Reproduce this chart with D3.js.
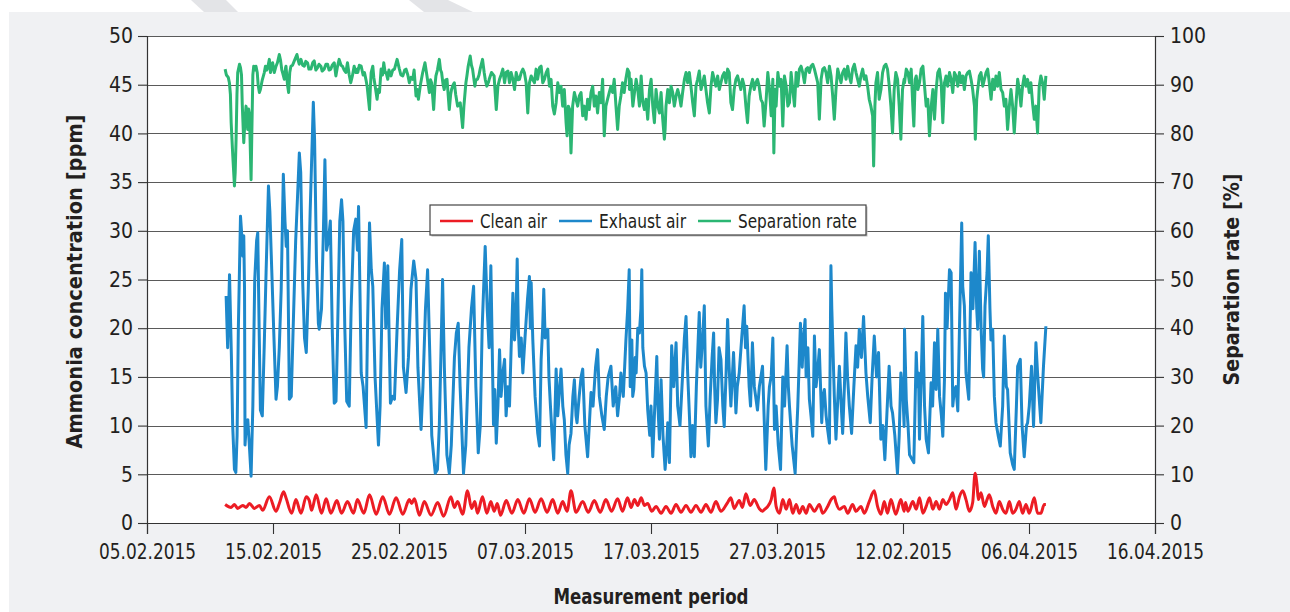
<!DOCTYPE html>
<html>
<head>
<meta charset="utf-8">
<script src="https://cdn.jsdelivr.net/npm/d3@7"></script>
<style>
  html, body { margin: 0; padding: 0; background: #fff; }
  #canvas { width: 1290px; height: 612px; }
  text { font-family: "Liberation Sans Narrow", "DejaVu Sans Condensed", "Arial Narrow", sans-serif; fill: #231f20; }
</style>
</head>
<body>
<div id="canvas"></div>
<script>
// ---------- data (x = days after 05.02.2015, as drawn on the axis) ----------

const xTickDays = [0, 10, 20, 30, 40, 50, 60, 70, 80];
const xTickLabels = ['05.02.2015', '15.02.2015', '25.02.2015', '07.03.2015', '17.03.2015',
  '27.03.2015', '12.02.2015', '06.04.2015', '16.04.2015'];
const ppmTicks = [0, 5, 10, 15, 20, 25, 30, 35, 40, 45, 50];
const rateTicks = [0, 10, 20, 30, 40, 50, 60, 70, 80, 90, 100];
const seriesNames = ['Clean air', 'Exhaust air', 'Separation rate'];

// exhaust air [day, ppm]
const exhaustAir = [
  [6.28,23.3],[6.4,18],[6.55,25.5],[6.7,17],[6.8,10],[6.94,5.5],[7.05,5.2],[7.15,9],[7.25,20],[7.42,31.5],
  [7.5,30],[7.6,27.4],[7.68,29.5],[7.74,24],[7.78,8],[7.9,10.5],[8.0,10.6],[8.1,8.5],[8.26,4.8],[8.4,12],
  [8.55,25],[8.7,29],[8.79,29.8],[8.9,20],[9.0,11.6],[9.15,11],[9.3,18],[9.45,25.7],[9.64,34.6],[9.75,32],
  [9.9,26],[10.05,20],[10.24,12.7],[10.35,14],[10.5,18],[10.65,24],[10.82,35.8],[10.95,31],[11.05,28.4],[11.15,30],
  [11.3,12.7],[11.45,13],[11.6,20],[11.8,29],[11.95,33.6],[12.09,38],[12.2,36],[12.35,25],[12.5,19],[12.64,17.5],
  [12.8,24],[12.95,32],[13.2,43.2],[13.3,39.4],[13.45,27],[13.6,20.5],[13.67,19.9],[13.85,22],[14.0,30],[14.12,37.3],
  [14.25,28],[14.4,29],[14.55,31],[14.7,20],[14.86,12.3],[15.0,12.5],[15.1,18],[15.3,31],[15.44,33.2],[15.55,31],
  [15.7,20],[15.85,12.5],[16.05,12],[16.2,22],[16.4,30],[16.57,31.2],
  [16.7,28],[16.79,32.5],[16.9,24],[17.0,15.4],[17.15,14],[17.39,9.8],[17.5,20],[17.66,30.8],[17.8,26],[17.92,24.3],
  [18.1,15],[18.37,8],[18.5,12],[18.65,22],[18.84,26.7],[18.95,20],[19.11,26.4],[19.32,12.3],[19.5,13],[19.64,12.7],
  [19.85,20],[20.05,26],[20.22,29.1],[20.35,16],[20.56,13.4],[20.75,17],[20.95,24],[21.17,26.9],[21.35,25],[21.5,16],
  [21.75,9.6],[21.9,14],[22.1,22],[22.27,26],[22.45,17],[22.6,9],[22.88,5.1],[23.05,5.5],[23.2,10],[23.46,25],
  [23.6,16],[23.8,7],[23.99,5.1],[24.15,8],[24.4,17],[24.55,19.5],[24.7,20.5],[24.85,14],[25.12,5.1],[25.3,8],
  [25.55,18],[25.75,22],[25.92,24.3],[26.1,14],[26.29,7.2],[26.45,10],[26.6,20],[26.84,28.4],[27.0,22],[27.15,18],
  [27.29,26.4],[27.5,10.1],
  [27.6,13.7],[27.72,8.2],[27.85,12],[27.98,17.8],[28.1,13],[28.24,15.4],[28.38,16.8],[28.5,11],[28.64,14],[28.77,12],
  [28.9,18],[29.04,23.6],[29.17,18.8],[29.3,22],[29.38,27.1],[29.47,20],[29.56,17.1],[29.7,19],[29.83,15.4],[30.0,19],
  [30.2,23],[30.35,25.3],[30.42,20],[30.49,24.7],[30.62,18.8],[30.8,13],[31.01,9.2],[31.15,7.9],[31.28,16.8],[31.4,20],
  [31.49,24],[31.6,19],[31.81,19.9],[31.9,15],[32.02,12],[32.15,9],[32.28,6.5],[32.47,15.8],[32.6,11],[32.75,14],
  [32.86,15.8],[33.0,12],[33.12,10.6],[33.25,7],[33.39,5.1],[33.5,8],[33.65,9.2],[33.8,13],[33.92,14.7],[34.05,11],
  [34.13,10.3],[34.3,13],[34.45,15],[34.58,15.8],[34.75,10],[34.97,6.8],[35.1,10],[35.24,13.4],[35.4,12],[35.6,16],
  [35.76,17.8],[35.9,13],[36.1,11],[36.29,9.6],[36.45,13],[36.6,15],[36.82,16.1],[37.0,12],[37.2,14],[37.35,11],
  [37.5,13],[37.61,15.4],[37.8,13],[38.01,18.8],[38.15,22],[38.27,26],
  [38.35,14],[38.48,18.8],[38.55,13],[38.63,13.7],[38.75,17],[38.82,15.4],[38.95,20],[39.08,19.5],[39.2,22],[39.27,26],
  [39.35,18],[39.48,16.1],[39.61,15.4],[39.74,11.6],[39.9,9],[40.0,12],[40.14,6.8],[40.3,12],[40.46,17.1],[40.55,12],
  [40.67,8.6],[40.8,14.7],[40.95,9],[41.12,5.5],[41.25,8],[41.33,10.3],[41.46,6.2],[41.64,18.2],[41.8,14],[41.99,18.5],
  [42.12,12],[42.3,10],[42.5,15],[42.65,19],[42.78,21.2],[42.91,15.4],[43.05,11],[43.17,6.8],[43.3,10],[43.44,6.8],
  [43.6,14],[43.83,21.6],[43.95,16],[44.1,19],[44.23,22.3],[44.36,12],[44.55,7.9],[44.7,13],[44.85,17],[44.97,19.5],
  [45.05,14],[45.15,10.3],[45.28,12.7],[45.4,18],[45.55,16.8],[45.7,12],[45.81,9.9],[45.95,15],[46.08,20.9],[46.2,16],
  [46.34,12],[46.55,17.5],[46.74,11.3],[46.85,14],[47.0,15.4],[47.2,19],[47.39,22.3],[47.5,18],[47.6,20.2],[47.79,14],
  [47.9,12],[48.05,18.5],[48.2,14],[48.45,11.6],[48.6,14],[48.85,16.1],[49.0,10],[49.11,5.5],[49.24,9.9],
  [49.3,12],[49.4,14],[49.54,15.1],[49.67,19],[49.8,9.6],[49.93,12],[50.1,8],[50.28,5.5],[50.46,15],[50.6,12],
  [50.8,18.2],[50.9,14],[50.99,12],[51.2,8],[51.44,5.1],[51.55,9],[51.65,12],[51.86,20.5],[52.0,16],[52.1,19],
  [52.23,20.9],[52.31,15],[52.45,18],[52.57,12.7],[52.7,11],[52.84,8.9],[52.97,19.2],[53.1,14],[53.25,16],[53.36,17.8],
  [53.55,10.3],[53.65,13],[53.76,13.7],[53.9,11],[54.02,9.6],[54.16,8.2],[54.28,26.4],[54.35,22],[54.42,18.8],[54.55,13],
  [54.68,8.6],[54.8,12],[54.95,16.1],[55.1,12],[55.21,9.2],[55.35,14],[55.47,19.5],[55.6,15],[55.74,12],[55.92,9.2],
  [56.1,14],[56.27,18.2],[56.4,16],[56.53,19.9],[56.7,17],[56.87,21.2],[57.06,15.4],[57.2,13],[57.4,10.3],[57.55,15],
  [57.72,19.2],[57.9,15],[58.06,17.5],[58.24,8.6],[58.4,10],[58.56,6.5],[58.75,12],[58.9,16.1],[59.05,12],[59.17,11.3],
  [59.35,9],[59.56,5.1],[59.7,9],[59.83,15.4],[60.0,13],[60.09,9.9],
  [60.12,19.9],[60.26,12.7],[60.4,10],[60.52,7],[60.86,6.2],[61.05,17.5],[61.15,14],[61.23,15.4],[61.31,8.6],[61.45,15],
  [61.57,21.2],[61.71,12],[61.84,8.6],[62.02,7.2],[62.23,14.4],[62.35,12],[62.5,18.5],[62.63,13.7],[62.76,19.9],[62.9,13],
  [63.05,11],[63.16,8.9],[63.29,14.7],[63.37,23.6],[63.5,20],[63.69,26],[63.82,25.7],[63.95,12],[64.08,13.7],[64.2,14],
  [64.35,11.5],[64.48,19.9],[64.66,30.8],[64.74,24.3],[64.87,22.3],[65.0,15.4],[65.22,12.7],[65.4,25.7],[65.55,22],[65.72,28.8],
  [65.85,22],[65.93,19.9],[66.06,27.9],[66.2,20],[66.32,15.8],[66.4,15],[66.51,22.3],[66.67,25.7],[66.77,29.5],[66.9,22],
  [66.98,18.8],[67.12,19.9],[67.25,13],[67.38,10.3],[67.55,9],[67.72,7.9],[67.91,12],[68.04,19.2],[68.2,14],[68.3,13.7],
  [68.51,7.2],[68.7,6],[68.83,5.5],[69.0,12],[69.1,16.1],[69.31,16.8],[69.45,10],[69.62,6.8],[69.8,10],[69.89,10.3],
  [70.02,12],[70.2,16.1],[70.36,9.9],[70.55,18.5],[70.68,15.4],[70.8,13],[70.94,10.3],[71.15,16.1],[71.34,20.2]
];

// separation rate [day, %]
const separationRate = [
  [6.2,93.2],[6.3,92],[6.45,91.5],[6.54,90.4],[6.62,88],[6.68,82.2],[6.81,75.3],[6.94,69.2],[7.0,72],[7.07,78.8],
  [7.14,88],[7.2,92.5],[7.34,94.2],[7.42,93.5],[7.5,92],[7.56,86],[7.68,78.1],[7.76,82],[7.86,85.6],[7.93,84],
  [7.99,80.8],[8.06,85],[8.13,84],[8.26,70.5],[8.32,80],[8.4,92],[8.47,93.8],[8.56,93],[8.65,93.8],[8.75,92.5],
  [8.82,90],[8.92,88.4],[9.0,89],[9.05,89.7],[9.15,91],[9.31,92.5],[9.4,93.8],[9.5,93],[9.58,93.5],[9.71,95.2],
  [9.8,92.5],[9.9,94],[9.97,94.5],[10.1,92.5],[10.24,93.8],[10.35,94.5],[10.5,96.2],[10.6,95],[10.7,93],[10.76,92.5],
  [10.9,91.1],[11.0,93.5],[11.03,93.8],[11.15,90],[11.24,88.4],[11.33,92.5],[11.42,93.8],[11.55,94],[11.74,95.2],[11.9,96.2],
  [12.0,95],[12.08,94.2],[12.22,95.2],[12.35,94],[12.48,93.8],[12.6,94.8],[12.74,94.5],[12.85,93.2],[13.01,93.2],[13.15,94.5],
  [13.27,94.9],[13.4,93],[13.54,93.5],[13.65,94.2],[13.8,93.8],[13.9,92.8],[14.06,93.2],[14.2,94.2],[14.33,94.2],[14.45,93],
  [14.59,93.2],[14.7,94],[14.86,94.5],[14.99,91.8],[15.1,93.5],[15.25,95.2],[15.4,94],[15.51,93.8],[15.65,93],[15.78,92.5],
  [15.91,94.5],[16.05,92],[16.17,90.4],[16.3,91.8],[16.44,93.8],[16.57,92.5],[16.7,93.2],
  [16.73,92.5],[16.85,94],[17.0,93.8],[17.15,92],[17.26,92.5],[17.38,91],[17.47,89.7],[17.66,84.9],[17.72,89],[17.79,92.5],
  [17.92,93.8],[18.0,91.5],[18.11,89.7],[18.26,87],[18.35,89],[18.45,88.4],[18.58,93.2],[18.7,92],[18.79,94.5],[18.9,92.5],
  [18.98,92.5],[19.11,91.1],[19.2,93],[19.37,91.8],[19.5,93],[19.64,93.2],[19.85,95.2],[20.03,93.2],[20.15,92],[20.3,91.8],
  [20.45,93],[20.56,93.2],[20.7,92],[20.82,90.4],[20.95,91.5],[21.09,91.1],[21.2,93],[21.35,87.7],[21.45,89],[21.54,87],
  [21.7,90],[21.88,92.5],[22.06,94.5],[22.22,91.8],[22.41,88.4],[22.5,91],[22.59,90.4],[22.75,84.9],[22.85,89.7],[22.93,91.8],
  [23.05,93],[23.2,95.2],[23.3,93],[23.38,92.5],[23.5,90],[23.59,89],[23.7,91],[23.81,91.1],[23.99,84.9],[24.1,88],
  [24.17,89],[24.3,90],[24.39,90.4],[24.5,88],[24.65,85.6],[24.75,86],[24.86,86.3],[25.05,81.2],[25.15,85.6],[25.31,90.4],
  [25.4,92],[25.49,93.8],[25.65,95.9],[25.75,94],[25.84,93.2],[26.02,89.7],[26.1,91],[26.23,91.1],[26.35,92],[26.44,93.2],
  [26.63,95.2],[26.76,92.5],[26.85,91],[26.97,89.7],[27.1,90.5],[27.16,91.1],[27.34,92.5],[27.55,91.8],
  [27.58,90.4],[27.72,84.9],[27.85,89.7],[27.98,91.1],[28.1,92],[28.24,93.2],[28.38,90.4],[28.5,92.5],[28.64,92.8],[28.77,90.4],
  [28.9,92.5],[29.04,91.1],[29.17,89],[29.3,92.5],[29.45,91],[29.56,91.1],[29.7,92.5],[29.83,93.2],[29.95,92.5],[30.09,90.4],
  [30.22,84.2],[30.35,90.4],[30.49,91.8],[30.62,91],[30.75,90.4],[30.88,93.2],[31.0,91.1],[31.15,93.5],[31.28,93.8],[31.41,90.4],
  [31.54,91.1],[31.68,92.5],[31.81,93.2],[31.94,89.7],[32.07,91.1],[32.2,85.6],[32.33,84],[32.47,86.3],[32.6,90.4],[32.73,88.4],
  [32.86,89.7],[32.99,85.6],[33.12,89],[33.26,82.2],[33.34,79.5],[33.44,85.6],[33.55,84.9],[33.65,76],[33.78,85.6],[33.92,88.4],
  [34.05,87],[34.18,85.6],[34.31,87.7],[34.45,88.4],[34.58,83.6],[34.71,85.6],[34.84,82.9],[34.97,87],[35.1,84.9],[35.24,88.4],
  [35.37,89.7],[35.5,85.6],[35.63,87.7],[35.76,84.2],[35.9,88.4],[36.03,86.3],[36.16,91.1],[36.29,79.5],[36.42,85.6],[36.55,87],
  [36.69,88.4],[36.82,89.7],[36.95,88.4],[37.08,91.1],[37.22,85.6],[37.35,80.8],[37.48,85.6],[37.61,87.7],[37.74,90.4],[37.87,88.4],
  [38.0,91.1],[38.14,93.2],[38.27,92.5],
  [38.29,89],[38.42,91.1],[38.56,85.6],[38.69,88.4],[38.82,91.1],[38.95,89],[39.08,85.6],[39.22,91.8],[39.35,86.3],[39.48,84.9],
  [39.61,87],[39.74,82.9],[39.88,89],[40.01,91.1],[40.14,85.6],[40.27,82.2],[40.4,89],[40.54,85.6],[40.67,84.2],[40.8,88.4],
  [40.93,82.9],[41.06,78.8],[41.12,80.8],[41.19,85.6],[41.33,89],[41.46,86.3],[41.59,89.7],[41.72,88.4],[41.85,85.6],[41.99,87.7],
  [42.12,89],[42.25,87.7],[42.38,85.6],[42.51,88.4],[42.65,91.1],[42.78,92.5],[42.91,90.4],[43.04,92.5],[43.17,89.7],[43.31,86.3],
  [43.44,83.6],[43.57,89.7],[43.7,91.1],[43.83,92.8],[43.97,89],[44.1,90.4],[44.23,91.8],[44.36,89],[44.49,86.3],[44.63,84.2],
  [44.76,89.7],[44.89,92.5],[45.02,91.1],[45.15,89.7],[45.29,91.8],[45.42,89],[45.55,90.4],[45.68,91.8],[45.81,92.5],[45.95,90.4],
  [46.08,93.2],[46.21,92.5],[46.34,86.3],[46.47,84.9],[46.6,89],[46.74,91.1],[46.87,91.8],[47.0,90.4],[47.13,89],[47.26,91.1],
  [47.4,89.7],[47.53,85.6],[47.66,82.2],[47.79,87.7],[47.92,89.7],[48.06,91.1],[48.19,89],[48.32,90.4],[48.45,91.1],[48.58,89.7],
  [48.72,87],[48.85,86.3],[48.98,81.5],
  [49.14,87],[49.27,92.5],[49.41,89],[49.54,83.6],[49.67,91.1],[49.75,76],[49.85,89],[49.93,85.6],[50.07,92.5],[50.2,89.7],
  [50.33,91.1],[50.46,81.5],[50.59,91.8],[50.73,89.7],[50.86,85.6],[50.99,86.3],[51.12,92.5],[51.25,89],[51.39,85.6],[51.52,92.5],
  [51.65,89.7],[51.78,93.2],[51.91,93.8],[52.04,92.5],[52.18,90.4],[52.31,93.2],[52.44,93.5],[52.57,92.5],[52.7,93.8],[52.84,94.2],
  [52.97,93.2],[53.1,91.8],[53.23,90.4],[53.36,82.9],[53.5,91.1],[53.63,93.2],[53.76,93.5],[53.89,92.5],[54.02,90.4],[54.16,93.8],
  [54.29,91.8],[54.42,87.7],[54.55,82.9],[54.68,89],[54.82,93.2],[54.95,91.8],[55.08,90.4],[55.21,92.5],[55.34,93.2],[55.48,91.1],
  [55.61,93.8],[55.74,91.8],[55.87,90.4],[56.0,93.2],[56.14,94.2],[56.27,92.5],[56.4,91.1],[56.53,89.7],[56.66,91.8],[56.8,93.2],
  [56.93,91.1],[57.06,91.8],[57.19,89.7],[57.32,87],[57.45,85.6],[57.59,83.6],[57.67,73.3],[57.77,85.6],[57.85,90.4],[57.98,92.5],
  [58.11,87],[58.25,89],[58.38,92.5],[58.51,93.8],[58.64,94.2],[58.77,93.2],[58.91,89.7],[59.04,85.6],[59.17,80.1],[59.3,89],
  [59.43,92.5],[59.57,91.1],[59.7,85.6],[59.83,78.8],[59.96,89],[60.09,91.1],
  [60.12,90.4],[60.26,93.2],[60.39,92.5],[60.52,90.4],[60.65,93.2],[60.78,85.6],[60.86,81.5],[60.97,91.1],[61.05,91.8],[61.18,89],
  [61.31,90.4],[61.44,93.2],[61.58,93.8],[61.71,89.7],[61.84,85.6],[61.97,87],[62.1,79.5],[62.24,85.6],[62.37,89],[62.5,82.9],
  [62.63,89],[62.76,92.5],[62.89,93.2],[63.03,90.4],[63.16,82.2],[63.29,90.4],[63.42,91.8],[63.55,89.7],[63.69,92.5],[63.82,91.1],
  [63.95,88.4],[64.08,92.5],[64.21,91.8],[64.35,89.7],[64.48,92.5],[64.61,90.4],[64.74,91.8],[64.87,89],[65.0,91.8],[65.14,92.5],
  [65.27,92.8],[65.4,91.1],[65.53,89],[65.67,85.6],[65.74,78.8],[65.85,87],[65.93,89],[66.06,91.8],[66.19,92.5],[66.33,89.7],
  [66.46,91.1],[66.59,92.5],[66.72,93.2],[66.85,90.4],[66.99,87],[67.12,91.1],[67.25,89],[67.38,91.8],[67.51,89.7],[67.64,92.5],
  [67.78,89],[67.91,88.4],[68.04,85.6],[68.17,87],[68.3,80.8],[68.44,85.6],[68.57,89],[68.7,85.6],[68.83,80.1],[68.96,85.6],
  [69.1,91.1],[69.23,89],[69.36,85.6],[69.49,89.7],[69.62,91.8],[69.76,89.7],[69.89,91.1],[70.02,88.4],[70.15,90.4],[70.28,86.3],
  [70.42,82.9],[70.55,85.6],[70.68,80.1],[70.81,89.7],[70.94,91.8],[71.08,90.4],[71.21,87],[71.34,91.8]
];

// clean air [day, ppm]
const cleanAir = [
  [6.2,1.9],[6.68,1.6],[6.94,1.9],[7.2,1.5],[7.6,1.8],[7.86,1.6],[8.13,2.0],[8.52,1.5],[8.92,1.8],[9.18,1.3],
  [9.71,2.7],[10.24,1.2],[10.5,2.0],[10.84,3.2],[11.03,2.6],[11.48,1.0],[11.82,2.4],[12.22,1.0],[12.64,2.7],[12.88,2.3],
  [13.06,1.3],[13.43,2.9],[13.85,1.0],[14.22,2.5],[14.59,1.0],[15.07,2.3],[15.44,1.0],[15.91,2.2],[16.39,1.0],[16.7,2.4],
  [17.21,1.0],[17.66,2.9],[18.19,0.9],[18.71,2.7],[19.24,0.9],[19.77,2.6],[20.3,0.9],[20.82,2.4],[21.01,2.0],[21.22,2.5],
  [21.62,0.8],[22.01,2.2],[22.54,0.8],[23.07,2.1],[23.54,0.7],[24.12,2.7],[24.39,1.6],[24.65,2.2],[25.05,0.9],[25.44,3.3],
  [25.76,1.5],[26.02,2.2],[26.23,1.0],[26.63,2.7],[26.97,1.0],[27.29,2.2],[27.55,1.2],[27.8,2.0],
  [28.06,0.8],[28.51,2.3],[28.96,1.0],[29.43,2.4],[29.91,1.0],[30.35,2.5],[30.8,1.1],[31.28,2.5],[31.75,1.1],[32.2,2.4],
  [32.6,1.0],[32.99,2.2],[33.34,1.2],[33.65,3.3],[34.05,1.1],[34.58,2.2],[35.02,1.1],[35.5,2.3],[35.97,1.1],[36.42,2.4],
  [36.87,1.2],[37.35,2.5],[37.74,1.2],[38.14,2.6],
  [38.42,1.6],[38.69,2.4],[38.95,1.8],[39.22,2.6],[39.48,1.8],[39.74,2.0],[40.06,1.2],[40.4,1.7],[40.8,1.0],[41.19,1.7],
  [41.59,1.0],[41.99,1.9],[42.38,1.1],[42.78,1.8],[43.17,1.1],[43.57,1.8],[43.97,1.1],[44.36,1.9],[44.76,1.1],[45.15,2.2],
  [45.55,1.2],[46.08,2.1],[46.34,2.6],[46.6,1.5],[47.0,2.3],[47.26,1.6],[47.53,3.0],[47.87,1.8],[48.19,2.4],[48.58,1.5],
  [48.85,1.2],
  [49.01,1.4],[49.27,1.7],[49.54,2.4],[49.75,3.6],[49.93,1.7],[50.2,1.0],[50.46,2.4],[50.73,1.4],[50.99,2.4],[51.25,1.0],
  [51.52,1.9],[51.78,1.0],[52.04,1.7],[52.31,1.0],[52.57,1.9],[52.97,1.2],[53.36,1.9],[53.63,1.0],[54.02,1.7],[54.29,2.4],
  [54.55,2.7],[54.68,2.1],[54.95,1.4],[55.34,1.7],[55.61,1.0],[56.0,1.9],[56.27,1.2],[56.66,1.7],[56.93,1.0],[57.32,2.2],
  [57.72,3.3],[57.98,1.7],[58.25,0.9],[58.51,2.2],[58.77,1.0],[59.04,2.4],[59.43,0.9],[59.83,2.4],[60.09,1.2],
  [60.2,2.1],[60.39,1.2],[60.78,2.2],[61.05,1.4],[61.31,2.6],[61.58,1.0],[61.84,1.7],[62.1,2.6],[62.37,1.4],[62.63,2.2],
  [62.89,1.4],[63.16,2.4],[63.42,1.9],[63.69,2.4],[63.95,3.1],[64.21,1.4],[64.48,2.7],[64.74,3.3],[65.0,2.4],[65.27,1.2],
  [65.53,2.1],[65.72,5.1],[65.88,3.8],[65.98,2.4],[66.19,3.1],[66.46,1.7],[66.67,2.4],[66.85,2.9],[67.12,1.7],[67.38,1.0],
  [67.64,2.2],[67.91,1.4],[68.17,1.0],[68.44,2.2],[68.7,1.0],[68.96,1.4],[69.23,2.2],[69.49,1.0],[69.76,1.9],[70.02,1.0],
  [70.42,2.6],[70.68,1.0],[70.94,1.0],[71.21,1.9],[71.34,1.9]
];

// ---------- layout ----------

const width = 1290;
const height = 612;
const plot = { left: 147, right: 1155, top: 36, bottom: 523 };

const colors = { clean: '#ec1c24', exhaust: '#1d88cb', rate: '#2bb673' };

const svg = d3.select('#canvas')
  .append('svg')
  .attr('width', width)
  .attr('height', height)
  .attr('viewBox', [0, 0, width, height]);

// background panel + decorative slanted stripes at top
svg.append('rect').attr('x', 0).attr('y', 0).attr('width', width).attr('height', height).attr('fill', '#fff');
svg.append('rect').attr('x', 9).attr('y', 12).attr('width', width - 9).attr('height', height - 12).attr('fill', '#f0f1f3');

const stripes = [
  [[191, 0], [226, 0], [238, 12], [204, 12]],
  [[409, 0], [448, 0], [473, 12], [424, 12]]
];
svg.append('g').selectAll('polygon')
  .data(stripes)
  .join('polygon')
  .attr('points', d => d.map(p => p.join(',')).join(' '))
  .attr('fill', '#e3e4e7');

// ---------- scales ----------

const x = d3.scaleLinear().domain([0, 80]).range([plot.left, plot.right]);
const yPpm = d3.scaleLinear().domain([0, 50]).range([plot.bottom, plot.top]);
const yRate = d3.scaleLinear().domain([0, 100]).range([plot.bottom, plot.top]);

// plot area
svg.append('rect')
  .attr('x', plot.left).attr('y', plot.top)
  .attr('width', plot.right - plot.left).attr('height', plot.bottom - plot.top)
  .attr('fill', '#fff');

// horizontal grid
svg.append('g')
  .selectAll('line')
  .data(ppmTicks)
  .join('line')
  .attr('x1', plot.left).attr('x2', plot.right)
  .attr('y1', d => Math.round(yPpm(d)) + 0.5).attr('y2', d => Math.round(yPpm(d)) + 0.5)
  .attr('stroke', '#5a5a5a')
  .attr('stroke-width', 1.1);

// ---------- axes ----------

const tickFont = 21;

const leftAxis = svg.append('g')
  .attr('transform', `translate(${plot.left},0)`)
  .call(d3.axisLeft(yPpm).tickValues(ppmTicks).tickSize(9).tickPadding(5).tickFormat(d3.format('d')));

const rightAxis = svg.append('g')
  .attr('transform', `translate(${plot.right},0)`)
  .call(d3.axisRight(yRate).tickValues(rateTicks).tickSize(9).tickPadding(6).tickFormat(d3.format('d')));

const bottomAxis = svg.append('g')
  .attr('transform', `translate(0,${plot.bottom})`)
  .call(d3.axisBottom(x).tickValues(xTickDays).tickSize(11).tickPadding(10)
    .tickFormat((d, i) => xTickLabels[i]));

[leftAxis, rightAxis, bottomAxis].forEach(a => {
  a.select('.domain').attr('stroke', '#333').attr('stroke-width', 1.2);
  a.selectAll('.tick line').attr('stroke', '#333').attr('stroke-width', 1.1);
  a.selectAll('.tick text')
    .style('font-size', tickFont + 'px')
    .style('font-family', '"Liberation Sans Narrow", "DejaVu Sans Condensed", sans-serif')
    .attr('fill', '#231f20');
});
bottomAxis.selectAll('.tick text').attr('textLength', 97).attr('lengthAdjust', 'spacingAndGlyphs');

// axis titles
svg.append('text')
  .attr('transform', `translate(82,${(plot.top + plot.bottom) / 2 + 2}) rotate(-90)`)
  .attr('text-anchor', 'middle')
  .attr('textLength', 334).attr('lengthAdjust', 'spacingAndGlyphs')
  .style('font-size', '22px').style('font-weight', 'bold')
  .text('Ammonia concentration [ppm]');

svg.append('text')
  .attr('transform', `translate(1239,${(plot.top + plot.bottom) / 2}) rotate(-90)`)
  .attr('text-anchor', 'middle')
  .attr('textLength', 212).attr('lengthAdjust', 'spacingAndGlyphs')
  .style('font-size', '22px').style('font-weight', 'bold')
  .text('Separation rate [%]');

svg.append('text')
  .attr('x', (plot.left + plot.right) / 2)
  .attr('y', 604)
  .attr('text-anchor', 'middle')
  .attr('textLength', 195).attr('lengthAdjust', 'spacingAndGlyphs')
  .style('font-size', '22px').style('font-weight', 'bold')
  .text('Measurement period');

// ---------- lines ----------

const linePpm = d3.line().x(d => x(d[0])).y(d => yPpm(d[1]));
const lineRate = d3.line().x(d => x(d[0])).y(d => yRate(d[1]));
const lineClean = d3.line().x(d => x(d[0])).y(d => yPpm(d[1])).curve(d3.curveMonotoneX);

const lines = svg.append('g').attr('fill', 'none').attr('stroke-width', 3).attr('stroke-linejoin', 'round');

lines.append('path').datum(exhaustAir).attr('stroke', colors.exhaust).attr('d', linePpm);
lines.append('path').datum(separationRate).attr('stroke', colors.rate).attr('d', lineRate);
lines.append('path').datum(cleanAir).attr('stroke', colors.clean).attr('d', lineClean);

// ---------- legend ----------

const legend = svg.append('g').attr('transform', 'translate(430,205)');
legend.append('rect')
  .attr('x', 1.5).attr('y', 1.5).attr('width', 436).attr('height', 30)
  .attr('fill', '#bbb');
legend.append('rect')
  .attr('width', 436).attr('height', 30)
  .attr('fill', '#fff').attr('stroke', '#444').attr('stroke-width', 1.2);

const legendItems = [
  { name: seriesNames[0], color: colors.clean, x: 10, len: 67 },
  { name: seriesNames[1], color: colors.exhaust, x: 129, len: 87 },
  { name: seriesNames[2], color: colors.rate, x: 268, len: 119 }
];

const li = legend.selectAll('g.item')
  .data(legendItems)
  .join('g')
  .attr('class', 'item')
  .attr('transform', d => `translate(${d.x},0)`);

li.append('line')
  .attr('x1', 0).attr('x2', 33).attr('y1', 16).attr('y2', 16)
  .attr('stroke', d => d.color).attr('stroke-width', 2.6);

li.append('text')
  .attr('x', 40).attr('y', 23)
  .attr('textLength', d => d.len).attr('lengthAdjust', 'spacingAndGlyphs')
  .style('font-size', '19px')
  .text(d => d.name);
</script>
</body>
</html>
